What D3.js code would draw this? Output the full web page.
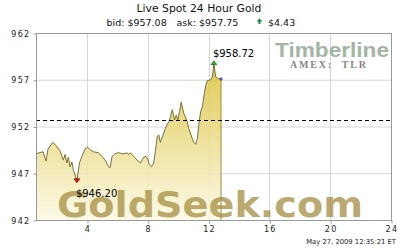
<!DOCTYPE html>
<html>
<head>
<meta charset="utf-8">
<script src="https://cdn.jsdelivr.net/npm/d3@7"></script>
<style>
  body { margin: 0; background: #fff; }
  svg { display: block; font-family: "DejaVu Sans", Verdana, sans-serif; }
</style>
</head>
<body>
<svg id="chart" width="400" height="250"></svg>
<script>
// hours since chart start and spot price
var hours = [0.65, 0.91, 1.11, 1.31, 1.44, 1.75, 1.90, 2.04, 2.23, 2.45, 2.56, 2.68, 2.78, 2.89, 3.01, 3.11, 3.29, 3.34,
  3.51, 3.67, 3.88, 4.04, 4.21, 4.43, 4.76, 4.99, 5.20, 5.42, 5.53, 5.65, 5.86, 6.08, 6.31, 6.52, 6.64, 6.74, 6.85,
  7.07, 7.30, 7.51, 7.73, 7.89, 8.00, 8.11, 8.24, 8.39, 8.50, 8.62, 8.72, 8.83, 9.05, 9.16, 9.27, 9.38, 9.49, 9.61,
  9.67, 9.76, 9.87, 9.98, 10.09, 10.20, 10.27, 10.37, 10.48, 10.60, 10.70, 10.93, 11.03, 11.15, 11.26, 11.36, 11.48,
  11.60, 11.69, 11.81, 11.92, 12.14, 12.25, 12.35, 12.47, 12.58, 12.68, 12.82];
var prices = [949.1, 949.2, 949.3, 948.3, 949.6, 950.3, 950.1, 949.8, 949.4, 948.4, 949.0, 948.1, 948.7, 947.7, 948.2, 947.3, 946.5, 946.2,
  948.1, 948.8, 949.6, 949.8, 949.5, 949.3, 949.2, 948.8, 948.4, 947.7, 947.6, 948.8, 949.1, 949.2, 949.1, 949.1, 949.2, 949.0, 949.2,
  948.8, 948.4, 948.1, 948.7, 948.8, 948.5, 947.9, 947.7, 948.1, 949.3, 950.9, 951.1, 950.3, 951.3, 951.8, 952.2, 952.5, 953.0, 953.8,
  953.4, 952.7, 953.2, 952.7, 953.6, 954.6, 954.1, 953.4, 953.0, 952.5, 951.8, 950.7, 950.3, 950.1, 950.7, 952.2, 953.6,
  954.1, 955.2, 956.4, 956.9, 957.0, 957.3, 958.72, 957.3, 957.2, 957.1, 957.08];
var yTicks = [942, 947, 952, 957, 962];
var xTicks = [4, 8, 12, 16, 20, 24];
var prevClose = 952.65;
var bid = 957.08, ask = 957.75, change = 4.43;
var stamp = 'May 27, 2009  12:35:21 ET';

var svg = d3.select('#chart');
var x = d3.scaleLinear().domain([0.65, 24]).range([36, 391]);
var y = d3.scaleLinear().domain([942, 962]).range([220, 33]);
var data = hours.map(function (h, i) { return { h: h, v: prices[i] }; });
var fmt = d3.format('.2f');

var grad = svg.append('defs').append('linearGradient')
  .attr('id', 'gold').attr('gradientUnits', 'userSpaceOnUse')
  .attr('x1', 0).attr('x2', 0).attr('y1', y(962)).attr('y2', y(942));
grad.append('stop').attr('offset', 0).attr('stop-color', '#d6bb22');
grad.append('stop').attr('offset', 1).attr('stop-color', '#fcf9e4');

// grid
svg.append('g').selectAll('line').data(yTicks.slice(1, -1)).join('line')
  .attr('x1', x.range()[0]).attr('x2', x.range()[1])
  .attr('y1', function (d) { return y(d) + 0.5; }).attr('y2', function (d) { return y(d) + 0.5; })
  .attr('stroke', '#d6d6d6');
svg.append('g').selectAll('line').data(xTicks.slice(0, -1)).join('line')
  .attr('x1', function (d) { return Math.round(x(d)) + 0.5; }).attr('x2', function (d) { return Math.round(x(d)) + 0.5; })
  .attr('y1', y(962)).attr('y2', y(942))
  .attr('stroke', '#d6d6d6');

var area = d3.area().x(function (d) { return x(d.h); }).y0(y(942)).y1(function (d) { return y(d.v); });
var line = d3.line().x(function (d) { return x(d.h); }).y(function (d) { return y(d.v); });
svg.append('path').datum(data).attr('d', area).attr('fill', 'url(#gold)').attr('fill-opacity', 0.9);
svg.append('path').datum(data).attr('d', line).attr('fill', 'none')
  .attr('stroke', '#6e6222').attr('stroke-width', 0.9);
var last = data[data.length - 1];
svg.append('line').attr('x1', x(last.h)).attr('x2', x(last.h))
  .attr('y1', y(last.v)).attr('y2', y(942)).attr('stroke', '#9a8c50');

// watermarks, drawn over the fill
svg.append('text').attr('x', 57).attr('y', 217)
  .attr('font-size', 35).attr('font-weight', 'bold')
  .attr('textLength', 306).attr('lengthAdjust', 'spacingAndGlyphs')
  .attr('fill', '#a08a3a').attr('fill-opacity', 0.72)
  .text('GoldSeek.com');
svg.append('text').attr('x', 389).attr('y', 57).attr('text-anchor', 'end')
  .attr('font-family', '"Liberation Sans", Arial, sans-serif')
  .attr('font-size', 20).attr('font-weight', 'bold')
  .attr('textLength', 114).attr('lengthAdjust', 'spacingAndGlyphs')
  .attr('fill', '#a3b6a3').text('Timberline');
svg.append('text').attr('x', 290).attr('y', 68)
  .attr('font-family', '"Liberation Serif", "DejaVu Serif", serif')
  .attr('font-size', 10).attr('font-weight', 'bold')
  .attr('textLength', 76).attr('lengthAdjust', 'spacing')
  .attr('fill', '#858585').text('AMEX:\u00a0\u00a0TLR');

// previous close
svg.append('line').attr('x1', x.range()[0]).attr('x2', x.range()[1])
  .attr('y1', Math.round(y(prevClose)) + 0.5).attr('y2', Math.round(y(prevClose)) + 0.5)
  .attr('stroke', '#000').attr('stroke-dasharray', '4,3');

// frame
svg.append('rect').attr('x', 36.5).attr('y', 33.5)
  .attr('width', x.range()[1] - 36).attr('height', y(942) - 33)
  .attr('fill', 'none').attr('stroke', '#999');

// axes
var yAxis = svg.append('g').attr('transform', 'translate(36.5,0.5)')
  .call(d3.axisLeft(y).tickValues(yTicks).tickSize(3).tickPadding(3));
var xAxis = svg.append('g').attr('transform', 'translate(0.5,' + (y(942) + 0.5) + ')')
  .call(d3.axisBottom(x).tickValues(xTicks).tickSize(3).tickPadding(3));
[yAxis, xAxis].forEach(function (g) {
  g.select('.domain').remove();
  g.selectAll('.tick line').attr('stroke', '#999');
  g.selectAll('.tick text').attr('font-family', '"DejaVu Sans", sans-serif')
    .attr('font-size', 8).attr('letter-spacing', 1.3).attr('fill', '#222');
});

// high / low markers
var lo = data[d3.minIndex(data, function (d) { return d.v; })];
var hi = data[d3.maxIndex(data, function (d) { return d.v; })];
svg.append('path')
  .attr('d', 'M' + (x(lo.h) - 3) + ',' + (y(lo.v) - 2) + 'h6l-3,4z')
  .attr('fill', '#e01010').attr('stroke', '#400').attr('stroke-width', 0.5);
svg.append('text').attr('x', x(lo.h) - 1).attr('y', y(lo.v) + 16)
  .attr('font-size', 10).attr('fill', '#000').text('$' + fmt(lo.v));
svg.append('path')
  .attr('d', 'M' + (x(hi.h) - 3) + ',' + (y(hi.v) + 1) + 'h6l-3,-4z')
  .attr('fill', '#20c020').attr('stroke', '#040').attr('stroke-width', 0.5);
svg.append('text').attr('x', x(hi.h) - 1).attr('y', y(hi.v) - 7)
  .attr('font-size', 10).attr('fill', '#000').text('$' + fmt(hi.v));
svg.append('path')
  .attr('d', 'M' + (x(last.h) - 2) + ',' + y(last.v) + 'h4M' + x(last.h) + ',' + (y(last.v) - 2) + 'v4')
  .attr('stroke', '#1a2ad0').attr('stroke-width', 0.8);

// titles
svg.append('text').attr('x', 199).attr('y', 11.5).attr('text-anchor', 'middle')
  .attr('font-size', 10.8).attr('fill', '#111').text('Live Spot 24 Hour Gold');
svg.append('text').attr('x', 106.5).attr('y', 26).attr('font-size', 9.5).attr('fill', '#111')
  .text('bid: $' + fmt(bid));
svg.append('text').attr('x', 176.5).attr('y', 26).attr('font-size', 9.5).attr('fill', '#111')
  .text('ask: $' + fmt(ask));
svg.append('path').attr('d', 'M259.5,18.5l-3,3h2v2.5h2v-2.5h2z').attr('fill', '#138a3c');
svg.append('text').attr('x', 268).attr('y', 26).attr('font-size', 9.5).attr('fill', '#111')
  .text('$' + fmt(change));
svg.append('text').attr('x', 396).attr('y', 244).attr('text-anchor', 'end')
  .attr('font-size', 6.8).attr('fill', '#222').text(stamp);
</script>
</body>
</html>
